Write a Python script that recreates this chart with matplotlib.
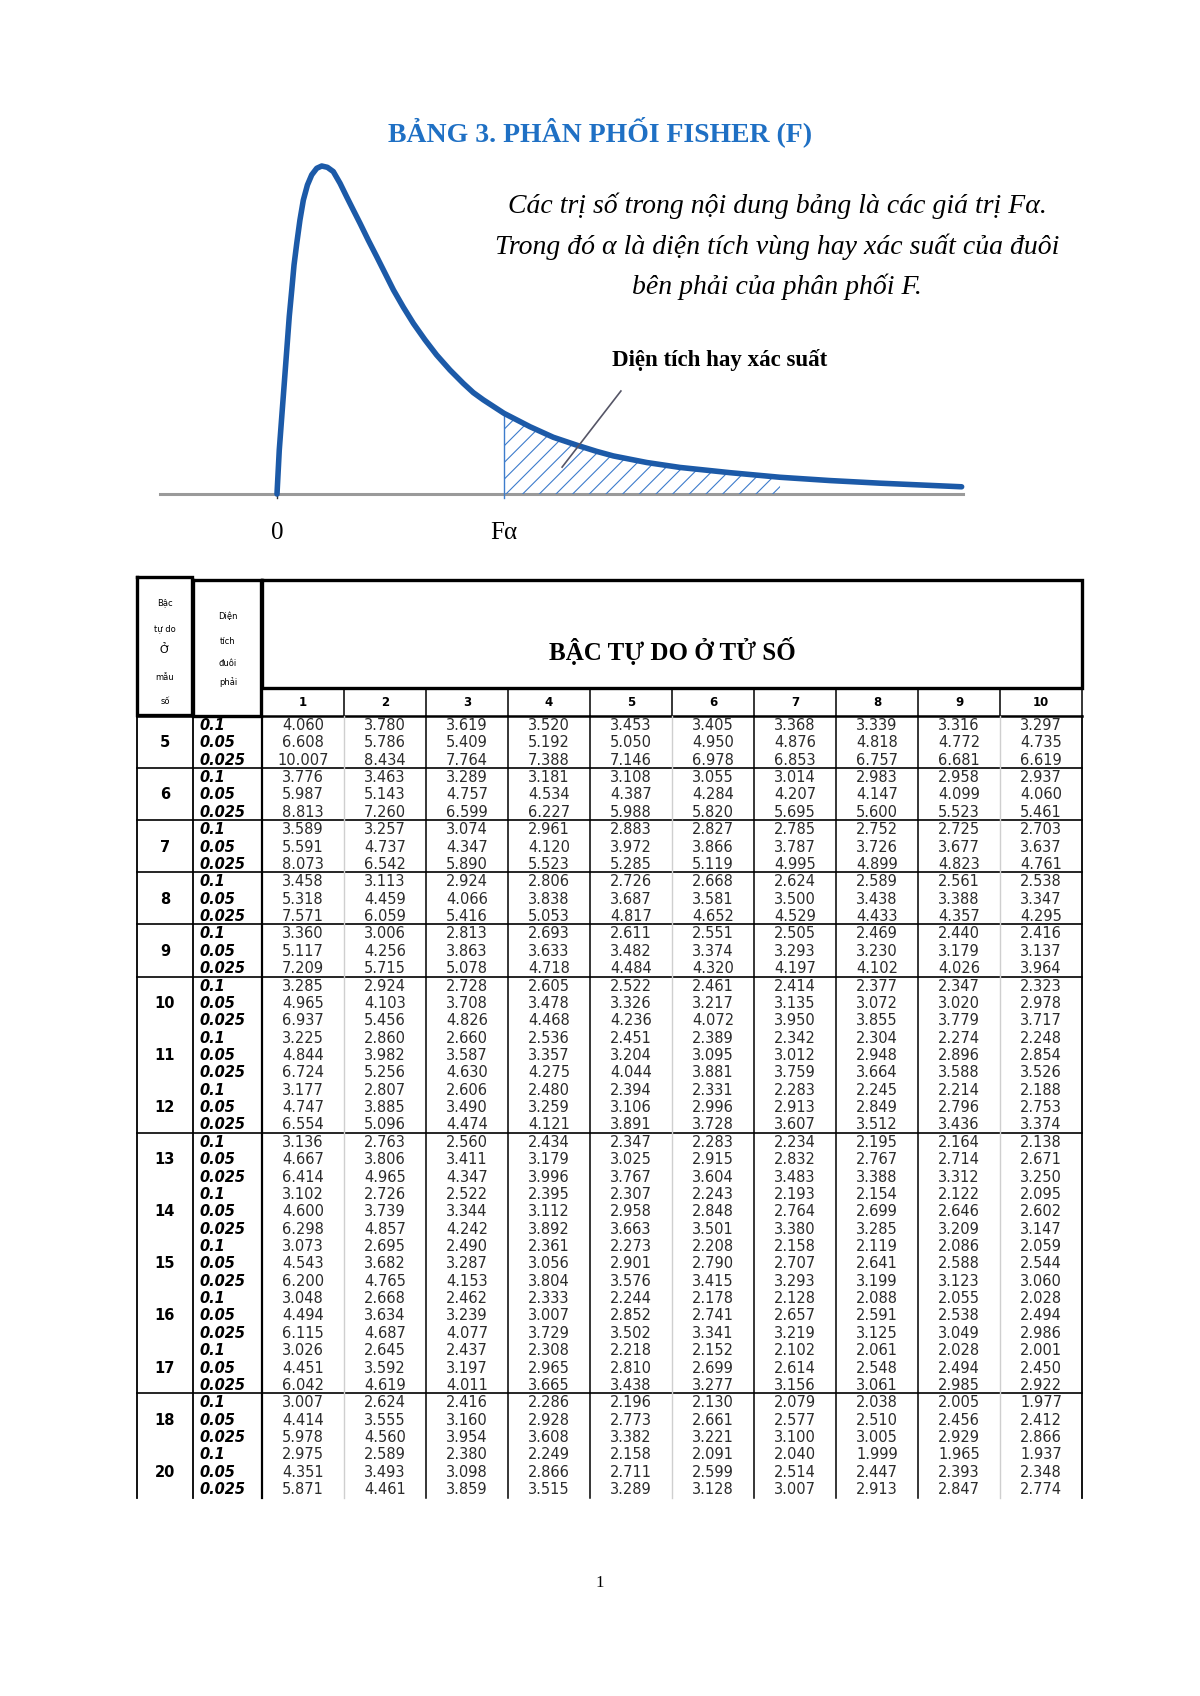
import matplotlib.pyplot as plt

# ---- text of the page
title = 'BẢNG 3. PHÂN PHỐI FISHER (F)'
note_lines = ['Các trị số trong nội dung bảng là các giá trị Fα.',
              'Trong đó α là diện tích vùng hay xác suất của đuôi',
              'bên phải của phân phối F.']
area_label = 'Diện tích hay xác suất'
top_header = 'BẬC TỰ DO Ở TỬ SỐ'
left_head_a = ['Bậc', 'tự do', 'Ở', 'mẫu', 'số']
left_head_b = ['Diện', 'tích', 'đuôi', 'phải']

# ---- curve (x in units of F alpha, y relative to the peak)
curve_x = [0.0, 0.010, 0.021, 0.032, 0.043, 0.054, 0.065, 0.075, 0.087, 0.101,
           0.116, 0.134, 0.153, 0.175, 0.197, 0.222, 0.248, 0.278, 0.307, 0.336,
           0.366, 0.402, 0.439, 0.476, 0.513, 0.557, 0.601, 0.652, 0.703, 0.762,
           0.821, 0.865, 0.909, 0.960, 1.0, 1.115, 1.217, 1.320, 1.408, 1.482,
           1.629, 1.775, 1.996, 2.216, 2.436, 2.656, 3.016]
curve_y = [0.0, 0.134, 0.236, 0.337, 0.439, 0.541, 0.622, 0.698, 0.764, 0.835,
           0.896, 0.942, 0.973, 0.993, 1.0, 0.996, 0.983, 0.947, 0.906, 0.866,
           0.825, 0.774, 0.724, 0.673, 0.622, 0.569, 0.520, 0.470, 0.424, 0.378,
           0.337, 0.309, 0.287, 0.264, 0.246, 0.205, 0.173, 0.149, 0.130, 0.116,
           0.096, 0.081, 0.065, 0.051, 0.041, 0.033, 0.022]
f_alpha = 1.0
hatch_end = 2.216
axis_x = [-0.515, 3.02]
pointer_x = [1.515, 1.256]
pointer_y = [0.314, 0.082]

# ---- table values
df_den = [5, 6, 7, 8, 9, 10, 11, 12, 13, 14, 15, 16, 17, 18, 20]
df_num = [1, 2, 3, 4, 5, 6, 7, 8, 9, 10]
alphas = ['0.1', '0.05', '0.025']

f_a10 = [
    ['4.060', '3.780', '3.619', '3.520', '3.453', '3.405', '3.368', '3.339', '3.316', '3.297'],
    ['3.776', '3.463', '3.289', '3.181', '3.108', '3.055', '3.014', '2.983', '2.958', '2.937'],
    ['3.589', '3.257', '3.074', '2.961', '2.883', '2.827', '2.785', '2.752', '2.725', '2.703'],
    ['3.458', '3.113', '2.924', '2.806', '2.726', '2.668', '2.624', '2.589', '2.561', '2.538'],
    ['3.360', '3.006', '2.813', '2.693', '2.611', '2.551', '2.505', '2.469', '2.440', '2.416'],
    ['3.285', '2.924', '2.728', '2.605', '2.522', '2.461', '2.414', '2.377', '2.347', '2.323'],
    ['3.225', '2.860', '2.660', '2.536', '2.451', '2.389', '2.342', '2.304', '2.274', '2.248'],
    ['3.177', '2.807', '2.606', '2.480', '2.394', '2.331', '2.283', '2.245', '2.214', '2.188'],
    ['3.136', '2.763', '2.560', '2.434', '2.347', '2.283', '2.234', '2.195', '2.164', '2.138'],
    ['3.102', '2.726', '2.522', '2.395', '2.307', '2.243', '2.193', '2.154', '2.122', '2.095'],
    ['3.073', '2.695', '2.490', '2.361', '2.273', '2.208', '2.158', '2.119', '2.086', '2.059'],
    ['3.048', '2.668', '2.462', '2.333', '2.244', '2.178', '2.128', '2.088', '2.055', '2.028'],
    ['3.026', '2.645', '2.437', '2.308', '2.218', '2.152', '2.102', '2.061', '2.028', '2.001'],
    ['3.007', '2.624', '2.416', '2.286', '2.196', '2.130', '2.079', '2.038', '2.005', '1.977'],
    ['2.975', '2.589', '2.380', '2.249', '2.158', '2.091', '2.040', '1.999', '1.965', '1.937'],
]
f_a05 = [
    ['6.608', '5.786', '5.409', '5.192', '5.050', '4.950', '4.876', '4.818', '4.772', '4.735'],
    ['5.987', '5.143', '4.757', '4.534', '4.387', '4.284', '4.207', '4.147', '4.099', '4.060'],
    ['5.591', '4.737', '4.347', '4.120', '3.972', '3.866', '3.787', '3.726', '3.677', '3.637'],
    ['5.318', '4.459', '4.066', '3.838', '3.687', '3.581', '3.500', '3.438', '3.388', '3.347'],
    ['5.117', '4.256', '3.863', '3.633', '3.482', '3.374', '3.293', '3.230', '3.179', '3.137'],
    ['4.965', '4.103', '3.708', '3.478', '3.326', '3.217', '3.135', '3.072', '3.020', '2.978'],
    ['4.844', '3.982', '3.587', '3.357', '3.204', '3.095', '3.012', '2.948', '2.896', '2.854'],
    ['4.747', '3.885', '3.490', '3.259', '3.106', '2.996', '2.913', '2.849', '2.796', '2.753'],
    ['4.667', '3.806', '3.411', '3.179', '3.025', '2.915', '2.832', '2.767', '2.714', '2.671'],
    ['4.600', '3.739', '3.344', '3.112', '2.958', '2.848', '2.764', '2.699', '2.646', '2.602'],
    ['4.543', '3.682', '3.287', '3.056', '2.901', '2.790', '2.707', '2.641', '2.588', '2.544'],
    ['4.494', '3.634', '3.239', '3.007', '2.852', '2.741', '2.657', '2.591', '2.538', '2.494'],
    ['4.451', '3.592', '3.197', '2.965', '2.810', '2.699', '2.614', '2.548', '2.494', '2.450'],
    ['4.414', '3.555', '3.160', '2.928', '2.773', '2.661', '2.577', '2.510', '2.456', '2.412'],
    ['4.351', '3.493', '3.098', '2.866', '2.711', '2.599', '2.514', '2.447', '2.393', '2.348'],
]
f_a025 = [
    ['10.007', '8.434', '7.764', '7.388', '7.146', '6.978', '6.853', '6.757', '6.681', '6.619'],
    ['8.813', '7.260', '6.599', '6.227', '5.988', '5.820', '5.695', '5.600', '5.523', '5.461'],
    ['8.073', '6.542', '5.890', '5.523', '5.285', '5.119', '4.995', '4.899', '4.823', '4.761'],
    ['7.571', '6.059', '5.416', '5.053', '4.817', '4.652', '4.529', '4.433', '4.357', '4.295'],
    ['7.209', '5.715', '5.078', '4.718', '4.484', '4.320', '4.197', '4.102', '4.026', '3.964'],
    ['6.937', '5.456', '4.826', '4.468', '4.236', '4.072', '3.950', '3.855', '3.779', '3.717'],
    ['6.724', '5.256', '4.630', '4.275', '4.044', '3.881', '3.759', '3.664', '3.588', '3.526'],
    ['6.554', '5.096', '4.474', '4.121', '3.891', '3.728', '3.607', '3.512', '3.436', '3.374'],
    ['6.414', '4.965', '4.347', '3.996', '3.767', '3.604', '3.483', '3.388', '3.312', '3.250'],
    ['6.298', '4.857', '4.242', '3.892', '3.663', '3.501', '3.380', '3.285', '3.209', '3.147'],
    ['6.200', '4.765', '4.153', '3.804', '3.576', '3.415', '3.293', '3.199', '3.123', '3.060'],
    ['6.115', '4.687', '4.077', '3.729', '3.502', '3.341', '3.219', '3.125', '3.049', '2.986'],
    ['6.042', '4.619', '4.011', '3.665', '3.438', '3.277', '3.156', '3.061', '2.985', '2.922'],
    ['5.978', '4.560', '3.954', '3.608', '3.382', '3.221', '3.100', '3.005', '2.929', '2.866'],
    ['5.871', '4.461', '3.859', '3.515', '3.289', '3.128', '3.007', '2.913', '2.847', '2.774'],
]
f_tables = [f_a10, f_a05, f_a025]
group_lines_after = [0, 1, 2, 3, 4, 5, 8, 13]   # separators drawn above these groups
gray_cols = [1, 5, 9]                            # light column separators

SERIF = 'Liberation Serif'
SANS = 'DejaVu Sans'
TITLE_BLUE = '#1f70c4'
CURVE_BLUE = '#1c5aa8'
HATCH_BLUE = '#3d7ccc'
W, H = 1200, 1696

plt.rcParams['hatch.linewidth'] = 0.8

fig = plt.figure(figsize=(12, 16.96), dpi=100)

# page axes in pixels, origin top-left
page = fig.add_axes([0, 0, 1, 1])
page.set_xlim(0, W)
page.set_ylim(H, 0)
page.axis('off')

page.text(600, 132, title, ha='center', va='center', fontsize=20,
          fontweight='bold', family=SERIF, color=TITLE_BLUE)
for i, line in enumerate(note_lines):
    page.text(777, 206 + i * 40.5, line, ha='center', va='center',
              fontsize=20, style='italic', family=SERIF, color='black')
page.text(720, 360, area_label, ha='center', va='center', fontsize=16.5,
          fontweight='bold', family=SERIF)

# ---- curve axes: 0 at x=277px, F alpha at 504px; baseline 494px, peak 166px
x_px, x_scale = 277, 227
y_px, y_scale = 494, 328
xlim = (-0.6, 3.2)
ylim = (-0.15, 1.1)
left = x_px + xlim[0] * x_scale
right = x_px + xlim[1] * x_scale
bottom = y_px - ylim[0] * y_scale
top = y_px - ylim[1] * y_scale
ax = fig.add_axes([left / W, 1 - bottom / H, (right - left) / W, (bottom - top) / H])
ax.set_xlim(*xlim)
ax.set_ylim(*ylim)
ax.axis('off')
ax.patch.set_alpha(0)

ax.plot(axis_x, [0, 0], color='#9a9a9a', lw=2.2, zorder=1)
hx = [x for x in curve_x if f_alpha <= x <= hatch_end]
hy = [y for x, y in zip(curve_x, curve_y) if f_alpha <= x <= hatch_end]
ax.fill_between(hx, 0, hy, facecolor='none', edgecolor=HATCH_BLUE,
                hatch='//', linewidth=0, zorder=2)
fa_top = curve_y[curve_x.index(f_alpha)]
ax.plot([f_alpha, f_alpha], [-0.012, fa_top], color=HATCH_BLUE, lw=1.0, zorder=2)
ax.plot([0, 0], [-0.012, 0], color='#333333', lw=1.0, zorder=2)
ax.plot(curve_x, curve_y, color=CURVE_BLUE, lw=4, solid_capstyle='round',
        solid_joinstyle='round', zorder=3)
ax.plot(pointer_x, pointer_y, color='#555566', lw=1.2, zorder=4)
ax.text(0, -0.119, '0', ha='center', va='center', fontsize=18, family=SERIF)
ax.text(f_alpha, -0.119, 'Fα', ha='center', va='center', fontsize=18, family=SERIF)

# ---- table
col_left, col_w = 262, 82
row_top, grp_h = 716, 52.1
sub_h = grp_h / 3
x_a0, x_a1 = 137, 193
n_grp = len(df_den)
tab_bottom = row_top + n_grp * grp_h
col_right = col_left + col_w * len(df_num)
thick = 2.4


def box(x0, y0, x1, y1, lw):
    page.plot([x0, x1, x1, x0, x0], [y0, y0, y1, y1, y0], color='black', lw=lw,
              solid_joinstyle='miter')


box(x_a0, 577, x_a1 - 1, 715, thick)
box(x_a1, 580, col_left - 1, 716, thick)
box(col_left, 580, col_right, 688, thick)
page.text((col_left + col_right) / 2, 651, top_header, ha='center', va='center',
          fontsize=18, fontweight='bold', family=SERIF)
for i, t in enumerate(left_head_a):
    page.text((x_a0 + x_a1) / 2, [603, 629, 650, 677, 702][i], t, ha='center',
              va='center', fontsize=8 if t == 'Ở' else 6, family=SANS)
for i, t in enumerate(left_head_b):
    page.text(228, [617, 641, 663, 682][i], t, ha='center', va='center',
              fontsize=6, family=SANS)

# column number row
for j, n in enumerate(df_num):
    page.text(col_left + (j + 0.5) * col_w, 706, str(n), ha='center',
              va='baseline', fontsize=8.5, fontweight='bold', family=SANS)
for j in range(len(df_num) + 1):
    page.plot([col_left + j * col_w] * 2, [688, row_top], color='black', lw=1.1)

# data grid
for k in group_lines_after:
    page.plot([x_a0, col_right], [row_top + k * grp_h] * 2, color='black',
              lw=1.8 if k == 0 else 1.2)
for xv, lw in [(x_a0, 1.3), (x_a1, 1.3), (col_left, 1.6), (col_right, 1.3)]:
    page.plot([xv, xv], [row_top, tab_bottom], color='black', lw=lw)
for j in range(1, len(df_num)):
    gray = j in gray_cols
    page.plot([col_left + j * col_w] * 2, [row_top, tab_bottom],
              color='#cfcfcf' if gray else 'black', lw=1.0 if gray else 1.1)

num_fs = 10.5
half_cap = 0.73 * num_fs * 100 / 72 / 2
for g, dfd in enumerate(df_den):
    y0 = row_top + g * grp_h
    page.text((x_a0 + x_a1) / 2, y0 + 1.5 * sub_h + half_cap, str(dfd),
              ha='center', va='baseline', fontsize=num_fs, fontweight='bold',
              family=SANS)
    for r, a in enumerate(alphas):
        yb = y0 + (r + 0.5) * sub_h + half_cap
        page.text(x_a1 + 6, yb, a, ha='left', va='baseline', fontsize=10.5,
                  fontweight='bold', style='italic', family=SANS)
        for j in range(len(df_num)):
            page.text(col_left + (j + 0.5) * col_w, yb, f_tables[r][g][j],
                      ha='center', va='baseline', fontsize=num_fs, family=SANS,
                      color='#2b2b2b')

page.text(600, 1583, '1', ha='center', va='center', fontsize=12, family=SERIF)

fig.savefig('out.png', dpi=100, facecolor='white')
